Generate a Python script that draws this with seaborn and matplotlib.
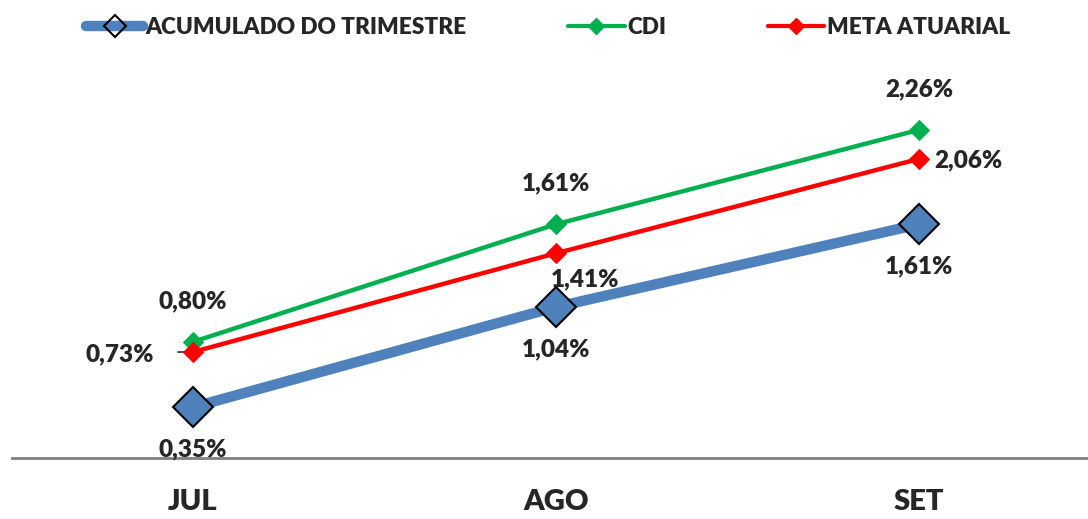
import pandas as pd
import matplotlib.pyplot as plt
import seaborn as sns
from matplotlib.lines import Line2D

meses = ['JUL', 'AGO', 'SET']
acumulado = [0.35, 1.04, 1.61]
cdi = [0.80, 1.61, 2.26]
meta = [0.73, 1.41, 2.06]

sns.set_style('white')
plt.rcParams['font.family'] = ['Lato', 'DejaVu Sans']
plt.rcParams['font.weight'] = 'heavy'

df = pd.DataFrame({'Mes': meses, 'ACUMULADO DO TRIMESTRE': acumulado,
                   'CDI': cdi, 'META ATUARIAL': meta})

fig = plt.figure(figsize=(10.88, 5.19), dpi=100)
ax = fig.add_axes([11.5 / 1088, 61 / 519, 1089 / 1088, 363 / 519])

azul = '#4F81BD'
verde = '#00B050'
vermelho = '#FF0000'

x = [0.5, 1.5, 2.5]
df['x'] = x

sns.lineplot(data=df, x='x', y='ACUMULADO DO TRIMESTRE', ax=ax, color=azul,
             lw=7.5, marker='D', markersize=20, markerfacecolor=azul,
             markeredgecolor='black', markeredgewidth=1.5, zorder=2)
sns.lineplot(data=df, x='x', y='CDI', ax=ax, color=verde, lw=3.2,
             marker='D', markersize=10, markeredgecolor=verde, zorder=3)
sns.lineplot(data=df, x='x', y='META ATUARIAL', ax=ax, color=vermelho, lw=3.2,
             marker='D', markersize=10, markeredgecolor=vermelho, zorder=4)

def fmt(v):
    return f'{v:.2f}%'.replace('.', ',')

fs = 17.5
fw = 'heavy'
for xi, v in zip(x, cdi):
    ax.annotate(fmt(v), (xi, v), xytext=(0, 41), textcoords='offset pixels',
                ha='center', va='center', fontsize=fs, fontweight=fw)
for xi, v in zip(x, acumulado):
    ax.annotate(fmt(v), (xi, v), xytext=(0, -42), textcoords='offset pixels',
                ha='center', va='center', fontsize=fs, fontweight=fw)
off_meta = [(-73, -2), (29, -26), (49, -1)]
for xi, v, o in zip(x, meta, off_meta):
    ax.annotate(fmt(v), (xi, v), xytext=o, textcoords='offset pixels',
                ha='center', va='center', fontsize=fs, fontweight=fw)
# linha guia do rotulo 0,73%
ax.annotate('', (x[0], meta[0]), xytext=(-18, 0), textcoords='offset pixels',
            arrowprops=dict(arrowstyle='-', color='black', lw=1))

ax.set_xlim(0, 3)
ax.set_ylim(0, 2.5)
ax.set_xticks(x)
ax.set_xticklabels(meses, fontsize=21, fontweight=fw)
ax.tick_params(axis='x', length=0, pad=22)
ax.set_yticks([])
ax.set_xlabel('')
ax.set_ylabel('')
for s in ['top', 'right', 'left']:
    ax.spines[s].set_visible(False)
ax.spines['bottom'].set_color('#808080')
ax.spines['bottom'].set_linewidth(2)

handles = [
    Line2D([], [], color=azul, lw=7.5, solid_capstyle='round', marker='D',
           markersize=11, markerfacecolor='none', markeredgecolor='black',
           markeredgewidth=1.5),
    Line2D([], [], color=verde, lw=3, solid_capstyle='round', marker='D',
           markersize=8),
    Line2D([], [], color=vermelho, lw=3, solid_capstyle='round', marker='D',
           markersize=8),
]
fig.legend(handles, ['ACUMULADO DO TRIMESTRE', 'CDI', 'META ATUARIAL'],
           loc='center', bbox_to_anchor=(548 / 1088, 1 - 27 / 519), ncol=3,
           frameon=False, handlelength=2.5, handletextpad=0.1,
           columnspacing=4.5, prop={'weight': fw, 'size': 16.3})

fig.savefig('out.png', dpi=100)
